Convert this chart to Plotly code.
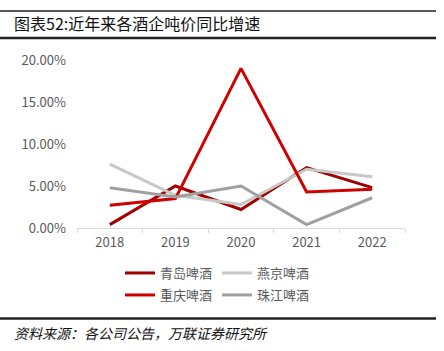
import plotly.graph_objects as go

years = ["2018", "2019", "2020", "2021", "2022"]
qingdao = [0.004, 0.050, 0.022, 0.072, 0.048]
yanjing = [0.076, 0.039, 0.028, 0.070, 0.061]
chongqing = [0.027, 0.035, 0.190, 0.043, 0.046]
zhujiang = [0.048, 0.037, 0.050, 0.004, 0.036]

names = ["青岛啤酒", "燕京啤酒", "重庆啤酒", "珠江啤酒"]
series = [qingdao, yanjing, chongqing, zhujiang]
colors = ["#A00000", "#C8C8C8", "#D00000", "#A0A0A0"]
legends = ["legend", "legend", "legend2", "legend2"]

W, H = 444, 351
ML, MR, MT, MB = 77, 39, 60, 123
PW, PH = W - ML - MR, H - MT - MB

def px(x):
    return (x - ML) / PW

def py(y):
    return (H - MB - y) / PH

FONT = "Noto Sans CJK SC"

fig = go.Figure()
for n, s, c, lg in zip(names, series, colors, legends):
    fig.add_trace(go.Scatter(x=years, y=s, name=n, mode="lines",
                             line=dict(color=c, width=3), legend=lg))

legend_common = dict(orientation="h", xanchor="left", yanchor="middle",
                     font=dict(family=FONT, size=13, color="#595959"),
                     bgcolor="rgba(0,0,0,0)", entrywidth=52, entrywidthmode="pixels",
                     itemwidth=30, tracegroupgap=0)

fig.update_layout(
    width=W, height=H,
    margin=dict(l=ML, r=MR, t=MT, b=MB),
    paper_bgcolor="white", plot_bgcolor="white",
    font=dict(family=FONT, color="#595959", size=12),
    showlegend=True,
    legend=dict(x=px(120), y=py(273), **legend_common),
    legend2=dict(x=px(120), y=py(295), **legend_common),
    xaxis=dict(type="category", range=[-0.5, 4.5], showline=True, linecolor="#D9D9D9",
               linewidth=1, ticks="outside", tickson="boundaries", ticklen=4,
               tickcolor="#D9D9D9", showgrid=False, zeroline=False,
               tickfont=dict(size=13, color="#595959"), ticklabelstandoff=2),
    yaxis=dict(range=[0, 0.2], tickvals=[0, 0.05, 0.10, 0.15, 0.20], tickformat=".2%",
               showline=False, showgrid=False, zeroline=False, ticks="",
               tickfont=dict(size=13, color="#595959"), ticklabelstandoff=10),
)

shapes = [
    dict(type="line", xref="paper", yref="paper", x0=px(0), x1=px(436), y0=py(11), y1=py(11),
         line=dict(color="#222222", width=1.5)),
    dict(type="line", xref="paper", yref="paper", x0=px(0), x1=px(436), y0=py(38), y1=py(38),
         line=dict(color="#222222", width=2.5)),
    dict(type="line", xref="paper", yref="paper", x0=px(0), x1=px(436), y0=py(318.5), y1=py(318.5),
         line=dict(color="#222222", width=2.5)),
]
fig.update_layout(shapes=shapes)

fig.add_annotation(text="图表52:近年来各酒企吨价同比增速", xref="paper", yref="paper",
                   x=px(12), y=py(23), xanchor="left", yanchor="middle", showarrow=False,
                   font=dict(family=FONT, size=16, color="#111111"))
fig.add_annotation(text="<i>资料来源：各公司公告，万联证券研究所</i>", xref="paper", yref="paper",
                   x=px(12), y=py(333), xanchor="left", yanchor="middle", showarrow=False,
                   font=dict(family=FONT, size=14, color="#111111"))

fig.write_html("out.html")
